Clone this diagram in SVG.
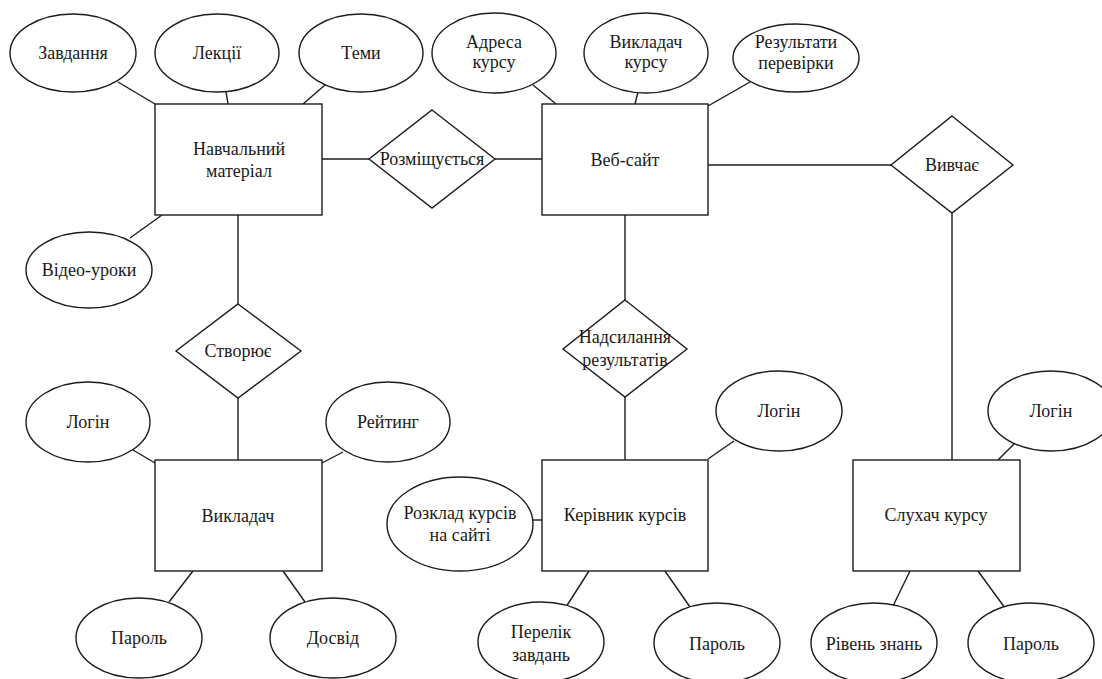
<svg xmlns="http://www.w3.org/2000/svg" width="1102" height="679" viewBox="0 0 1102 679">
<style>
  .shape { fill: #ffffff; stroke: #1c1c1c; stroke-width: 1.4; }
  .conn line { stroke: #1c1c1c; stroke-width: 1.4; }
  .lbl { font-family: 'Liberation Serif', 'DejaVu Serif', serif; font-size: 18px; fill: #1a1a1a; text-anchor: middle; }
</style>
<rect width="1102" height="679" fill="#ffffff"/>
<g id="connectors" class="conn">
  <line x1="118" y1="82" x2="155" y2="104"/>
  <line x1="226" y1="92" x2="228" y2="104"/>
  <line x1="325" y1="85" x2="303" y2="104"/>
  <line x1="162" y1="215" x2="130" y2="238"/>
  <line x1="322" y1="159" x2="369" y2="159"/>
  <line x1="495" y1="159" x2="542" y2="159"/>
  <line x1="238" y1="215" x2="238" y2="304"/>
  <line x1="238" y1="398" x2="238" y2="460"/>
  <line x1="133" y1="450" x2="155" y2="463"/>
  <line x1="343" y1="452" x2="322" y2="463"/>
  <line x1="193" y1="571" x2="169" y2="602"/>
  <line x1="283" y1="571" x2="305" y2="602"/>
  <line x1="533" y1="85" x2="556" y2="104"/>
  <line x1="638" y1="92" x2="635" y2="104"/>
  <line x1="750" y1="82" x2="708" y2="106"/>
  <line x1="708" y1="165" x2="891" y2="165"/>
  <line x1="625" y1="215" x2="625" y2="300"/>
  <line x1="625" y1="397" x2="625" y2="460"/>
  <line x1="734" y1="441" x2="708" y2="459"/>
  <line x1="533" y1="520" x2="542" y2="520"/>
  <line x1="589" y1="571" x2="566" y2="607"/>
  <line x1="665" y1="571" x2="690" y2="607"/>
  <line x1="952" y1="213" x2="952" y2="460"/>
  <line x1="1015" y1="443" x2="998" y2="460"/>
  <line x1="910" y1="571" x2="893" y2="606"/>
  <line x1="978" y1="571" x2="1005" y2="608"/>
</g>
<g id="nav-material">
  <rect class="shape" x="155" y="104" width="167" height="111"/>
  <text class="lbl" x="239" y="155">Навчальний</text>
  <text class="lbl" x="239" y="177">матеріал</text>
</g>
<g id="attr-zavdannia">
  <ellipse class="shape" cx="73" cy="53" rx="63" ry="39"/>
  <text class="lbl" x="73" y="59">Завдання</text>
</g>
<g id="attr-lektsii">
  <ellipse class="shape" cx="217" cy="53" rx="62" ry="39"/>
  <text class="lbl" x="217" y="59">Лекції</text>
</g>
<g id="attr-temy">
  <ellipse class="shape" cx="361" cy="53" rx="62" ry="39"/>
  <text class="lbl" x="361" y="59">Теми</text>
</g>
<g id="attr-video">
  <ellipse class="shape" cx="89" cy="270" rx="63" ry="38"/>
  <text class="lbl" x="89" y="276">Відео-уроки</text>
</g>
<g id="rel-rozmishchuietsia">
  <polygon class="shape" points="432,110 495,159 432,208 369,159"/>
  <text class="lbl" x="432" y="165">Розміщується</text>
</g>
<g id="web-site">
  <rect class="shape" x="542" y="104" width="166" height="111"/>
  <text class="lbl" x="625" y="166">Веб-сайт</text>
</g>
<g id="attr-adresa">
  <ellipse class="shape" cx="494" cy="53" rx="62" ry="40"/>
  <text class="lbl" x="494" y="48">Адреса</text>
  <text class="lbl" x="494" y="68">курсу</text>
</g>
<g id="attr-vykladach-kursu">
  <ellipse class="shape" cx="646" cy="53" rx="62" ry="40"/>
  <text class="lbl" x="646" y="48">Викладач</text>
  <text class="lbl" x="646" y="68">курсу</text>
</g>
<g id="attr-rezultaty">
  <ellipse class="shape" cx="796" cy="58" rx="63" ry="34"/>
  <text class="lbl" x="796" y="48">Результати</text>
  <text class="lbl" x="796" y="69">перевірки</text>
</g>
<g id="rel-vyvchaie">
  <polygon class="shape" points="952,116 1013,165 952,213 891,165"/>
  <text class="lbl" x="952" y="171">Вивчає</text>
</g>
<g id="rel-stvoriuie">
  <polygon class="shape" points="238,304 301,351 238,398 176,351"/>
  <text class="lbl" x="238" y="357">Створює</text>
</g>
<g id="vykladach">
  <rect class="shape" x="155" y="460" width="167" height="111"/>
  <text class="lbl" x="238" y="522">Викладач</text>
</g>
<g id="attr-login-1">
  <ellipse class="shape" cx="88" cy="422" rx="62" ry="40"/>
  <text class="lbl" x="88" y="428">Логін</text>
</g>
<g id="attr-reitynh">
  <ellipse class="shape" cx="388" cy="422" rx="62" ry="40"/>
  <text class="lbl" x="388" y="428">Рейтинг</text>
</g>
<g id="attr-parol-1">
  <ellipse class="shape" cx="139" cy="638" rx="63" ry="40"/>
  <text class="lbl" x="139" y="644">Пароль</text>
</g>
<g id="attr-dosvid">
  <ellipse class="shape" cx="333" cy="638" rx="63" ry="40"/>
  <text class="lbl" x="333" y="644">Досвід</text>
</g>
<g id="rel-nadsylannia">
  <polygon class="shape" points="625,300 687,349 625,397 563,349"/>
  <text class="lbl" x="625" y="343">Надсилання</text>
  <text class="lbl" x="625" y="366">результатів</text>
</g>
<g id="kerivnyk">
  <rect class="shape" x="542" y="460" width="166" height="111"/>
  <text class="lbl" x="625" y="521">Керівник курсів</text>
</g>
<g id="attr-login-2">
  <ellipse class="shape" cx="779" cy="411" rx="63" ry="40"/>
  <text class="lbl" x="779" y="417">Логін</text>
</g>
<g id="attr-rozklad">
  <ellipse class="shape" cx="460" cy="524" rx="73" ry="47"/>
  <text class="lbl" x="460" y="519">Розклад курсів</text>
  <text class="lbl" x="460" y="541">на сайті</text>
</g>
<g id="attr-perelik">
  <ellipse class="shape" cx="541" cy="642" rx="63" ry="40"/>
  <text class="lbl" x="541" y="638">Перелік</text>
  <text class="lbl" x="541" y="661">завдань</text>
</g>
<g id="attr-parol-2">
  <ellipse class="shape" cx="717" cy="643" rx="63" ry="40"/>
  <text class="lbl" x="717" y="650">Пароль</text>
</g>
<g id="slukhach">
  <rect class="shape" x="853" y="460" width="167" height="111"/>
  <text class="lbl" x="936" y="521">Слухач курсу</text>
</g>
<g id="attr-login-3">
  <ellipse class="shape" cx="1051" cy="411" rx="63" ry="40"/>
  <text class="lbl" x="1051" y="417">Логін</text>
</g>
<g id="attr-riven">
  <ellipse class="shape" cx="874" cy="643" rx="63" ry="40"/>
  <text class="lbl" x="874" y="650">Рівень знань</text>
</g>
<g id="attr-parol-3">
  <ellipse class="shape" cx="1031" cy="643" rx="63" ry="40"/>
  <text class="lbl" x="1031" y="650">Пароль</text>
</g>
</svg>
